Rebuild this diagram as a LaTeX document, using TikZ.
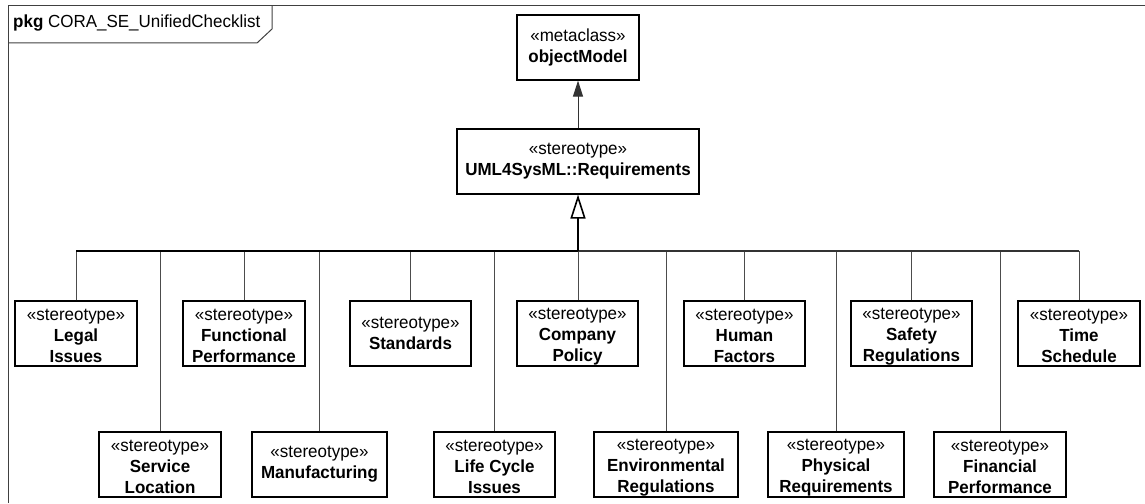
\documentclass[tikz,border=0pt]{standalone}
\usepackage{fontspec}
\setmainfont{Liberation Sans}[FakeStretch=0.97]
\usetikzlibrary{arrows.meta}
\newcommand\tstrutx{\rule{0pt}{17pt}}
\begin{document}
\begin{tikzpicture}[x=1pt,y=-1pt,
  every node/.style={font=\fontsize{17.5}{21}\selectfont},
  box/.style={draw=black, line width=1.2pt, fill=white, align=center, inner sep=0pt,
    minimum height=65pt},
  frameline/.style={draw=black!75, line width=1pt},
  conn/.style={draw=black!70, line width=1pt},
  busthick/.style={draw=black, line width=2pt},
  busthin/.style={draw=black!80, line width=1.2pt},
  gen/.style={draw=black, line width=2pt, -{Triangle[open, length=24pt, width=15pt, line width=1.6pt]}},
  dep/.style={draw=black!80, line width=1pt, -{Triangle[length=16pt, width=10pt]}}
]
\useasboundingbox (0,0) rectangle (1145,503);
% frame
\draw[frameline] (8,503) -- (8,6) -- (1145,6);
\draw[frameline] (272,6) -- (272,29) -- (257,43) -- (8,43);
\node[anchor=west, inner sep=0pt] (title) at (13,23) {\textbf{pkg} CORA\_SE\_UnifiedChecklist};

% upper classes
\node[box, minimum width=122pt] (om) at (578,47.5) {«metaclass»\\\textbf{objectModel}};
\node[box, minimum width=242pt] (uml) at (578,161.5) {«stereotype»\\\textbf{UML4SysML::Requirements}};

% top row
\node[box, minimum width=122pt] (legal) at (76,333.5) {\tstrutx«stereotype»\\\textbf{Legal}\\\textbf{Issues}};
\node[box, minimum width=122pt] (func) at (244,333.5) {\tstrutx«stereotype»\\\textbf{Functional}\\\textbf{Performance}};
\node[box, minimum width=121pt] (std) at (410.5,333.5) {«stereotype»\\\textbf{Standards}};
\node[box, minimum width=121pt] (comp) at (577.5,333.5) {\tstrutx«stereotype»\\\textbf{Company}\\\textbf{Policy}};
\node[box, minimum width=121pt] (human) at (744.5,333.5) {\tstrutx«stereotype»\\\textbf{Human}\\\textbf{Factors}};
\node[box, minimum width=121pt] (safety) at (911.5,333.5) {\tstrutx«stereotype»\\\textbf{Safety}\\\textbf{Regulations}};
\node[box, minimum width=122pt] (time) at (1079,333.5) {\tstrutx«stereotype»\\\textbf{Time}\\\textbf{Schedule}};

% bottom row
\node[box, minimum width=122pt] (service) at (160,464.5) {\tstrutx«stereotype»\\\textbf{Service}\\\textbf{Location}};
\node[box, minimum width=135pt] (manu) at (319.5,464.5) {«stereotype»\\\textbf{Manufacturing}};
\node[box, minimum width=121pt] (life) at (494.5,464.5) {\tstrutx«stereotype»\\\textbf{Life Cycle}\\\textbf{Issues}};
\node[box, minimum width=144pt] (env) at (666,464.5) {\tstrutx«stereotype»\\\textbf{Environmental}\\\textbf{Regulations}};
\node[box, minimum width=136pt] (phys) at (836,464.5) {\tstrutx«stereotype»\\\textbf{Physical}\\\textbf{Requirements}};
\node[box, minimum width=132pt] (fin) at (1000,464.5) {\tstrutx«stereotype»\\\textbf{Financial}\\\textbf{Performance}};

% bus junction
\coordinate (bus) at (578,251);

% drops
\foreach \n in {legal,func,std,human,safety,time,service,manu,life,env,phys,fin}{
  \draw[conn] (\n.north) -- (\n.north |- bus);
}
\draw[conn] (comp.north -| bus) -- (bus);

% bus
\draw[busthick] (legal.north |- bus) -- (bus);
\draw[busthin] (bus) -- (time.north |- bus);

% generalization and dependency
\draw[gen] (bus) -- (uml.south);
\draw[dep] (uml.north) -- (om.south);
\end{tikzpicture}
\end{document}
